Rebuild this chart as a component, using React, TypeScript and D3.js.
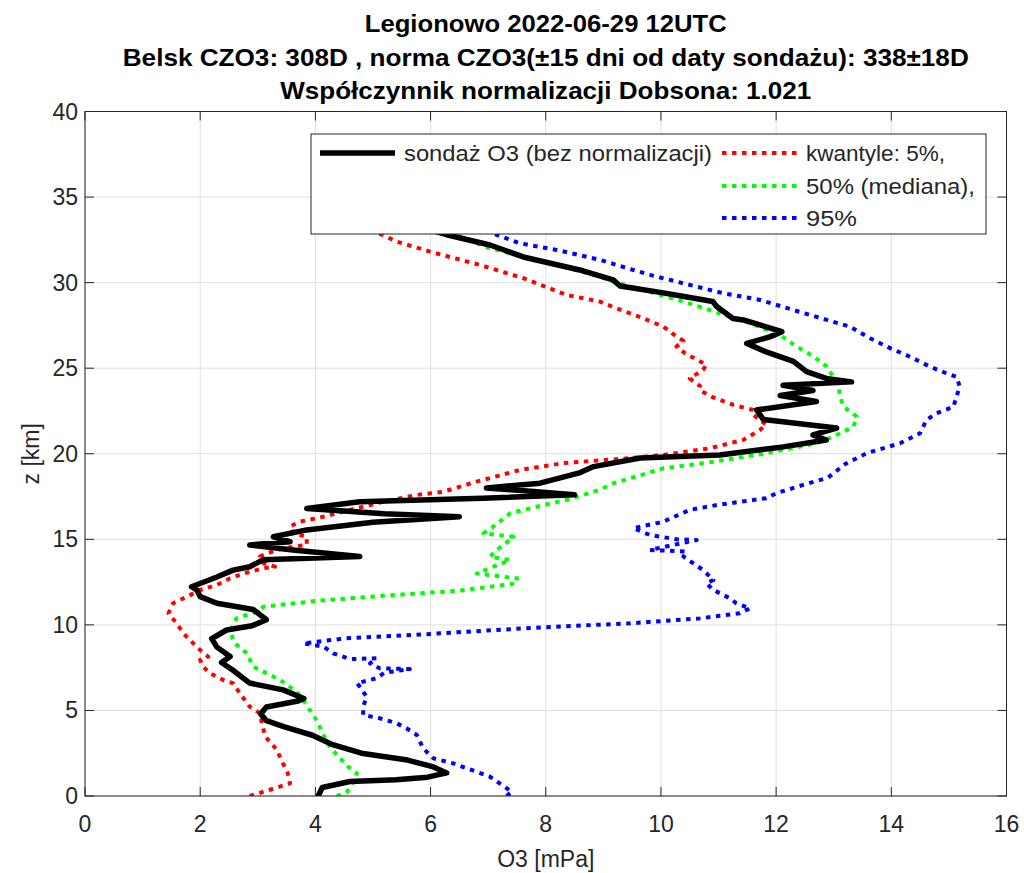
import React from "react";
import * as d3 from "d3";

// Ozone partial pressure [mPa] vs altitude [km]
const sondeO3: [number, number][] = [
  [4.05, 0.0], [4.12, 0.5], [4.6, 0.85], [5.4, 0.95], [5.95, 1.1], [6.28, 1.35], [6.05, 1.7],
  [5.6, 2.1], [4.8, 2.5], [4.3, 3.0], [3.95, 3.55], [3.45, 4.05], [3.15, 4.4], [3.05, 4.8],
  [3.15, 5.2], [3.7, 5.55], [3.8, 5.7], [3.44, 6.2], [2.86, 6.6], [2.57, 7.35], [2.37, 7.8],
  [2.52, 8.15], [2.29, 8.7], [2.2, 9.2], [2.46, 9.7], [2.9, 9.95], [3.15, 10.3], [2.92, 10.9],
  [2.29, 11.26], [2.0, 11.65], [1.94, 12.05], [1.85, 12.23], [2.29, 12.8], [2.57, 13.2],
  [2.86, 13.4], [3.09, 13.8], [4.77, 14.0], [3.61, 14.38], [2.86, 14.67], [3.56, 14.86],
  [3.27, 15.15], [3.85, 15.55], [5.0, 16.0], [6.5, 16.32], [5.2, 16.5], [3.85, 16.8],
  [4.77, 17.2], [6.9, 17.4], [8.5, 17.6], [7.95, 17.75], [6.97, 18.0], [7.9, 18.28],
  [8.6, 18.9], [8.83, 19.25], [9.64, 19.75], [11.02, 19.93], [12.12, 20.4], [12.87, 20.8],
  [12.64, 21.1], [13.05, 21.5], [11.78, 22.0], [11.66, 22.56], [12.7, 23.05], [12.07, 23.4],
  [12.64, 23.7], [12.12, 24.0], [13.31, 24.2], [12.87, 24.4], [12.53, 24.8], [12.3, 25.4],
  [11.83, 25.95], [11.49, 26.45], [11.89, 26.83], [12.1, 27.13], [11.84, 27.4], [11.43, 27.82],
  [11.25, 27.9], [10.97, 28.6], [10.9, 28.9], [10.38, 29.2], [10.04, 29.4], [9.29, 29.8],
  [9.17, 30.16], [8.59, 30.74], [7.61, 31.5], [7.03, 32.2], [6.28, 32.8], [6.08, 33.0],
];

const quantile5: [number, number][] = [
  [2.86, 0.0], [3.2, 0.35], [3.56, 0.74], [3.52, 1.34], [3.41, 2.1], [3.33, 2.7], [3.13, 3.47],
  [3.07, 4.25], [3.04, 4.83], [2.86, 5.22], [2.69, 6.0], [2.57, 6.59], [2.4, 6.78], [2.17, 7.17],
  [2.05, 7.56], [2.0, 7.95], [2.14, 8.14], [2.0, 8.53], [1.82, 9.12], [1.71, 9.5], [1.59, 10.09],
  [1.45, 10.68], [1.53, 11.26], [1.77, 11.65], [2.0, 12.04], [2.29, 12.33], [2.52, 12.72],
  [2.75, 13.0], [3.1, 13.31], [3.3, 13.4], [3.1, 13.6], [3.04, 14.0], [3.33, 14.38],
  [3.62, 14.57], [3.85, 14.67], [3.85, 15.15], [3.62, 15.35], [3.56, 15.74], [3.73, 16.03],
  [4.14, 16.32], [4.6, 16.72], [5.18, 17.2], [5.76, 17.59], [6.22, 17.78], [6.8, 18.37],
  [7.55, 19.05], [8.3, 19.45], [9.46, 19.74], [10.04, 19.93], [10.85, 20.32], [11.43, 20.81],
  [11.72, 21.39], [11.83, 21.7], [11.6, 22.27], [11.6, 22.56], [11.26, 22.85], [10.9, 23.3],
  [10.68, 23.7], [10.68, 23.95], [10.5, 24.4], [10.73, 24.9], [10.79, 25.2], [10.62, 25.5],
  [10.42, 25.87], [10.27, 26.26], [10.39, 26.6], [10.21, 27.0], [10.04, 27.43], [9.69, 27.92],
  [9.23, 28.5], [8.94, 28.89], [8.36, 29.28], [7.61, 30.26], [6.86, 31.03], [5.99, 31.81],
  [5.41, 32.4], [5.09, 32.9],
];

const quantile50: [number, number][] = [
  [4.37, 0.0], [4.54, 0.2], [4.63, 0.64], [4.72, 1.33], [4.57, 1.71], [4.4, 2.3], [4.25, 2.88],
  [4.14, 3.57], [4.02, 4.44], [3.88, 5.13], [3.79, 5.61], [3.67, 6.1], [3.39, 6.78], [2.92, 7.56],
  [2.81, 8.34], [2.6, 8.92], [2.52, 9.6], [2.63, 10.38], [2.98, 10.77], [3.1, 11.06], [4.02, 11.4],
  [5.18, 11.7], [6.5, 12.0], [7.5, 12.43], [7.5, 12.72], [6.8, 13.0], [7.09, 13.4], [7.38, 13.79],
  [7.03, 13.98], [7.15, 14.38], [7.38, 14.96], [7.44, 15.15], [6.92, 15.35], [7.09, 15.74],
  [7.38, 16.52], [7.84, 16.9], [8.42, 17.35], [8.94, 17.9], [9.17, 18.27], [10.04, 19.15],
  [10.85, 19.5], [11.83, 20.03], [12.7, 20.61], [12.99, 21.0], [13.34, 21.58], [13.4, 22.17],
  [13.17, 22.75], [13.11, 23.34], [13.08, 23.92], [12.99, 24.5], [12.88, 25.09], [12.65, 25.68],
  [12.36, 26.26], [12.07, 26.94], [11.55, 27.63], [11.02, 28.21], [10.39, 28.89], [9.69, 29.57],
  [9.17, 30.06], [8.94, 30.35], [8.3, 30.94], [7.61, 31.52], [7.03, 32.01], [6.57, 32.6],
  [6.3, 32.95],
];

const quantile95: [number, number][] = [
  [7.32, 0.0], [7.41, 0.25], [7.2, 0.74], [7.03, 1.13], [6.71, 1.52], [6.39, 1.91], [6.05, 2.2],
  [5.87, 2.79], [5.76, 3.57], [5.58, 3.96], [5.41, 4.25], [5.12, 4.54], [4.83, 4.73], [4.83, 5.22],
  [4.89, 5.8], [4.77, 6.39], [4.72, 6.59], [5.06, 6.88], [5.2, 7.2], [5.64, 7.42], [5.12, 7.46],
  [4.95, 7.75], [5.06, 8.05], [4.6, 8.0], [4.31, 8.34], [4.14, 8.73], [3.79, 8.92], [4.54, 9.22],
  [5.7, 9.41], [6.63, 9.6], [7.9, 9.85], [9.46, 10.09], [10.68, 10.38], [11.37, 10.68],
  [11.55, 10.97], [11.31, 11.26], [11.2, 11.55], [10.91, 12.04], [10.79, 12.43], [10.91, 12.62],
  [10.73, 13.21], [10.56, 13.6], [10.39, 13.99], [10.44, 14.28], [9.81, 14.38], [10.62, 14.96],
  [10.27, 15.0], [9.81, 15.25], [9.52, 15.65], [10.04, 16.03], [10.5, 16.72], [10.97, 17.0],
  [11.83, 17.4], [12.0, 17.69], [12.47, 18.18], [12.9, 18.6], [13.2, 19.4], [13.57, 20.03],
  [14.15, 20.61], [14.5, 21.2], [14.61, 21.98], [14.79, 22.37], [15.08, 22.75], [15.13, 23.34],
  [15.19, 23.92], [15.13, 24.5], [14.96, 24.7], [14.67, 25.09], [14.32, 25.68], [13.98, 26.17],
  [13.63, 26.75], [13.28, 27.43], [12.88, 27.82], [12.3, 28.4], [11.72, 28.99], [11.08, 29.38],
  [10.39, 29.96], [9.81, 30.45], [9.52, 30.74], [8.94, 31.33], [8.19, 31.91], [7.55, 32.3],
  [7.15, 32.79], [7.03, 32.96],
];

const xTicks = [0, 2, 4, 6, 8, 10, 12, 14, 16];
const yTicks = [0, 5, 10, 15, 20, 25, 30, 35, 40];

const titleLines = [
  "Legionowo 2022-06-29 12UTC",
  "Belsk CZO3: 308D , norma CZO3(\u00b115 dni od daty sonda\u017cu): 338\u00b118D",
  "Wsp\u00f3\u0142czynnik normalizacji Dobsona: 1.021",
];

const legendLabels = [
  "sonda\u017c O3 (bez normalizacji)",
  "kwantyle: 5%,",
  "50% (mediana),",
  "95%",
];

const W = 1024;
const H = 873;
const left = 85;
const right = 1006.5;
const top = 111.5;
const bottom = 796;
const axisColor = "#262626";
const gridColor = "#dfdfdf";
const font = "'Liberation Sans', Arial, sans-serif";
const dotted = "4.5 5.5";

export default function App() {
  const x = d3.scaleLinear().domain([0, 16]).range([left, right]);
  const y = d3.scaleLinear().domain([0, 40]).range([bottom, top]);
  const line = d3
    .line<[number, number]>()
    .x((d) => x(d[0]))
    .y((d) => y(d[1]));

  const series = [
    { data: quantile5, color: "#ff0000", width: 4, dash: dotted },
    { data: quantile50, color: "#00ff00", width: 4, dash: dotted },
    { data: quantile95, color: "#0000ff", width: 4, dash: dotted },
    { data: sondeO3, color: "#000000", width: 5.5, dash: undefined },
  ];

  const tickLen = 9;
  const titleWidths = [362, 846, 531];
  const cx = (left + right) / 2;

  const legendX = 311;
  const legendY = 134;
  const rowY = [153, 186, 218];
  const legendTextWidths = [308, 139, 169, 51];
  const tickFont = 23;

  return (
    <svg
      width={W}
      height={H}
      style={{ position: "absolute", left: 0, top: 0, background: "#fff" }}
      fontFamily={font}
    >
      <rect x={0} y={0} width={W} height={H} fill="#fff" />
      <defs>
        <clipPath id="plotClip">
          <rect x={left} y={top} width={right - left} height={bottom - top} />
        </clipPath>
      </defs>

      {/* grid */}
      {xTicks.map((t) => (
        <line key={"gx" + t} x1={x(t)} x2={x(t)} y1={top} y2={bottom} stroke={gridColor} strokeWidth={1} />
      ))}
      {yTicks.map((t) => (
        <line key={"gy" + t} x1={left} x2={right} y1={y(t)} y2={y(t)} stroke={gridColor} strokeWidth={1} />
      ))}

      {/* profiles */}
      <g clipPath="url(#plotClip)">
        {series.map((s, i) => (
          <path
            key={i}
            d={line(s.data) || ""}
            fill="none"
            stroke={s.color}
            strokeWidth={s.width}
            strokeDasharray={s.dash}
            strokeLinejoin="round"
            strokeLinecap={s.dash ? "butt" : "round"}
          />
        ))}
      </g>

      {/* axes box and ticks */}
      <rect x={left} y={top} width={right - left} height={bottom - top} fill="none" stroke={axisColor} strokeWidth={1} />
      {xTicks.map((t) => (
        <g key={"tx" + t}>
          <line x1={x(t)} x2={x(t)} y1={bottom} y2={bottom - tickLen} stroke={axisColor} />
          <line x1={x(t)} x2={x(t)} y1={top} y2={top + tickLen} stroke={axisColor} />
          <text x={x(t)} y={bottom + 36} textAnchor="middle" fontSize={tickFont} fill={axisColor}>
            {t}
          </text>
        </g>
      ))}
      {yTicks.map((t) => (
        <g key={"ty" + t}>
          <line x1={left} x2={left + tickLen} y1={y(t)} y2={y(t)} stroke={axisColor} />
          <line x1={right} x2={right - tickLen} y1={y(t)} y2={y(t)} stroke={axisColor} />
          <text x={left - 7} y={y(t) + 8} textAnchor="end" fontSize={tickFont} fill={axisColor}>
            {t}
          </text>
        </g>
      ))}

      {/* axis labels */}
      <text x={cx} y={867} textAnchor="middle" fontSize={tickFont} fill={axisColor}>
        O3 [mPa]
      </text>
      <text
        transform={`translate(39, ${(top + bottom) / 2}) rotate(-90)`}
        textAnchor="middle"
        fontSize={tickFont}
        fill={axisColor}
      >
        z [km]
      </text>

      {/* title */}
      {titleLines.map((t, i) => (
        <text
          key={"title" + i}
          x={cx}
          y={32 + i * 33.5}
          textAnchor="middle"
          fontSize={24}
          fontWeight="bold"
          fill="#000"
          textLength={titleWidths[i]}
          lengthAdjust="spacingAndGlyphs"
        >
          {t}
        </text>
      ))}

      {/* legend */}
      <rect x={legendX} y={legendY} width={986 - legendX} height={234 - legendY} fill="#fff" stroke={axisColor} strokeWidth={1} />
      <line x1={320} x2={395} y1={rowY[0]} y2={rowY[0]} stroke="#000" strokeWidth={5.5} />
      {series.slice(0, 3).map((s, i) => (
        <line
          key={"lg" + i}
          x1={722}
          x2={797}
          y1={rowY[i]}
          y2={rowY[i]}
          stroke={s.color}
          strokeWidth={s.width}
          strokeDasharray={s.dash}
        />
      ))}
      {legendLabels.map((label, i) => (
        <text
          key={"lt" + i}
          x={i === 0 ? 404 : 806}
          y={rowY[Math.max(0, i - 1)] + 8}
          fontSize={22}
          fill={axisColor}
          textLength={legendTextWidths[i]}
          lengthAdjust="spacingAndGlyphs"
        >
          {label}
        </text>
      ))}
    </svg>
  );
}
